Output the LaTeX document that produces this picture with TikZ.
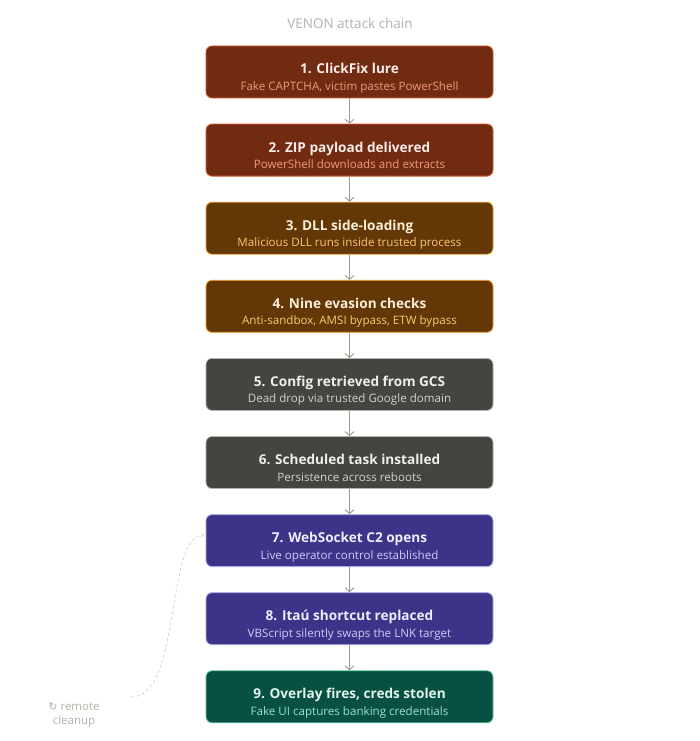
\documentclass[tikz,border=0pt]{standalone}
\usepackage{fontspec}
\setmainfont{Open Sans}
\newfontfamily\symfont{DejaVu Sans}
\usetikzlibrary{arrows.meta}
\definecolor{redF}{HTML}{712B13}\definecolor{redB}{HTML}{D85A30}\definecolor{redT}{HTML}{FAECE7}\definecolor{redS}{HTML}{F0997B}
\definecolor{ambF}{HTML}{633806}\definecolor{ambB}{HTML}{EF9F27}\definecolor{ambT}{HTML}{FAEEDA}\definecolor{ambS}{HTML}{FAC775}
\definecolor{gryF}{HTML}{444441}\definecolor{gryB}{HTML}{B4B2A9}\definecolor{gryT}{HTML}{F1EFE8}\definecolor{gryS}{HTML}{D3D1C7}
\definecolor{purF}{HTML}{3C3489}\definecolor{purB}{HTML}{AFA9EC}\definecolor{purT}{HTML}{EEEDFE}\definecolor{purS}{HTML}{CECBF6}
\definecolor{grnF}{HTML}{085041}\definecolor{grnB}{HTML}{5DCAA5}\definecolor{grnT}{HTML}{E1F5EE}\definecolor{grnS}{HTML}{9FE1CB}
\definecolor{arrowc}{HTML}{9C9A92}
\definecolor{titlec}{HTML}{B4B2A9}
\definecolor{dashc}{HTML}{D3D1C7}
\newcommand\chainbox[5]{% name, top y, colour prefix, title, subtitle
  \node[stagebox, fill=#3F, draw=#3B] (b#1) at (349.5pt,-#2pt-26pt) {};
  \node[stagetitle, text=#3T] (t#1) at (349.5pt,-#2pt-28pt) {#4};
  \node[stagesub, text=#3S] (s#1) at (349.5pt,-#2pt-44.5pt) {#5};
}
\tikzset{
  stagebox/.style={rectangle, rounded corners=6pt, minimum width=287pt, minimum height=52pt, line width=0.8pt, inner sep=0pt},
  stagetitle/.style={anchor=base, inner sep=0pt, font=\fontsize{13.6}{16}\selectfont\bfseries},
  stagesub/.style={anchor=base, inner sep=0pt, font=\fontsize{11.6}{14}\selectfont},
  flow/.style={draw=arrowc, line width=1.1pt, -{Straight Barb[length=4pt,width=9pt,line width=0.9pt]}},
  cleanup/.style={draw=dashc, line width=0.7pt, dash pattern=on 3pt off 2.5pt, -{Straight Barb[length=2pt,width=4pt]}},
}
\begin{document}
\begin{tikzpicture}[x=1pt,y=1pt]
\useasboundingbox[fill=white] (0,0) rectangle (700,-741);
\node[text=titlec, font=\fontsize{13.5}{16}\selectfont, anchor=base] (title) at (350,-29) {VENON attack chain};
\chainbox{1}{46}{red}{1. ClickFix lure}{Fake CAPTCHA, victim pastes PowerShell}
\chainbox{2}{124.1}{red}{2. ZIP payload delivered}{PowerShell downloads and extracts}
\chainbox{3}{202.2}{amb}{3. DLL side-loading}{Malicious DLL runs inside trusted process}
\chainbox{4}{280.3}{amb}{4. Nine evasion checks}{Anti-sandbox, AMSI bypass, ETW bypass}
\chainbox{5}{358.4}{gry}{5. Config retrieved from GCS}{Dead drop via trusted Google domain}
\chainbox{6}{436.5}{gry}{6. Scheduled task installed}{Persistence across reboots}
\chainbox{7}{514.6}{pur}{7. WebSocket C2 opens}{Live operator control established}
\chainbox{8}{592.7}{pur}{8. Itaú shortcut replaced}{VBScript silently swaps the LNK target}
\chainbox{9}{670.8}{grn}{9. Overlay fires, creds stolen}{Fake UI captures banking credentials}
\foreach \a/\b in {1/2,2/3,3/4,4/5,5/6,6/7,7/8,8/9}
  \draw[flow] (b\a.south) -- (b\b.north);
\node[text=titlec, font=\fontsize{11.5}{14}\selectfont, align=center, inner sep=0pt] (rc) at (74,-715) {{\symfont\fontsize{11}{14}\selectfont ↻} remote\\cleanup};
\coordinate (cs) at (131,-697);
\coordinate (ce) at (204,-535);
\draw[cleanup] (cs) .. controls (182,-697) and (165,-535) .. (ce);
\end{tikzpicture}
\end{document}
